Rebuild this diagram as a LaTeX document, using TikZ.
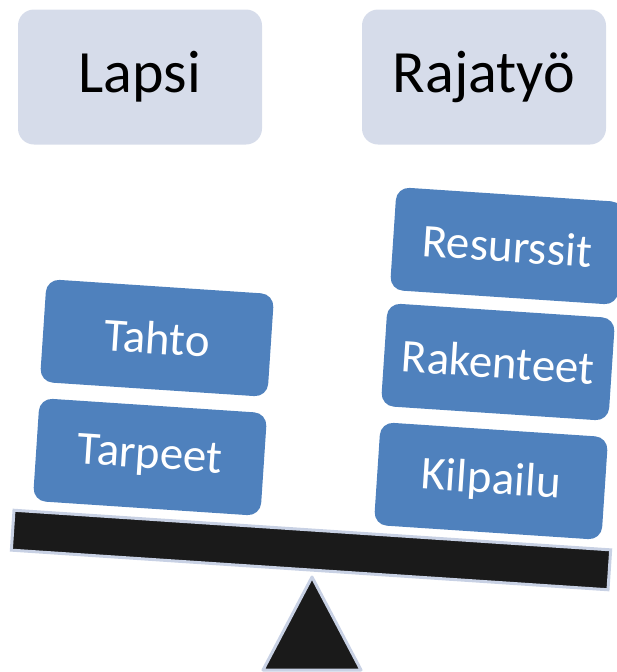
\documentclass[tikz,border=0pt]{standalone}
\usepackage{fontspec}
\setmainfont{Carlito}
\definecolor{topfill}{HTML}{D6DCEA}
\definecolor{bluefill}{HTML}{4F81BD}
\definecolor{darkfill}{HTML}{1A1A1A}
\definecolor{edgegray}{HTML}{C8D1E4}
\tikzset{
  topbox/.style={fill=topfill, rounded corners=16pt, minimum width=244pt, minimum height=135pt, inner sep=0pt, font=\fontsize{60}{62}\selectfont, text=black},
  bluebox/.style={fill=bluefill, rounded corners=13pt, minimum width=228pt, minimum height=103pt, inner sep=0pt, font=\fontsize{47}{49}\selectfont, text=white, rotate=-3.8},
  beamstyle/.style={fill=darkfill, draw=edgegray, line width=3pt, minimum width=598pt, minimum height=40pt, inner sep=0pt, rotate=-3.8},
}
\begin{document}
\begin{tikzpicture}[x=1pt,y=-1pt]
\useasboundingbox (0,0) rectangle (616,672);
\node[topbox] (lapsi) at (140,77) {Lapsi};
\node[topbox] (rajatyo) at (484,77) {Rajatyö};
\node[bluebox] (tahto) at (157,338) {Tahto};
\node[bluebox] (tarpeet) at (150,457) {Tarpeet};
\node[bluebox] (resurssit) at (507,246) {Resurssit};
\node[bluebox] (rakenteet) at (498,362) {Rakenteet};
\node[bluebox] (kilpailu) at (491,481) {Kilpailu};
\node[beamstyle] (beam) at (311,550) {};
\coordinate (apex) at (312,577);
\coordinate (bl) at (263,670);
\coordinate (br) at (361,670);
\draw[fill=darkfill, draw=edgegray, line width=3pt, line join=round] (apex) -- (br) -- (bl) -- cycle;
\end{tikzpicture}
\end{document}
